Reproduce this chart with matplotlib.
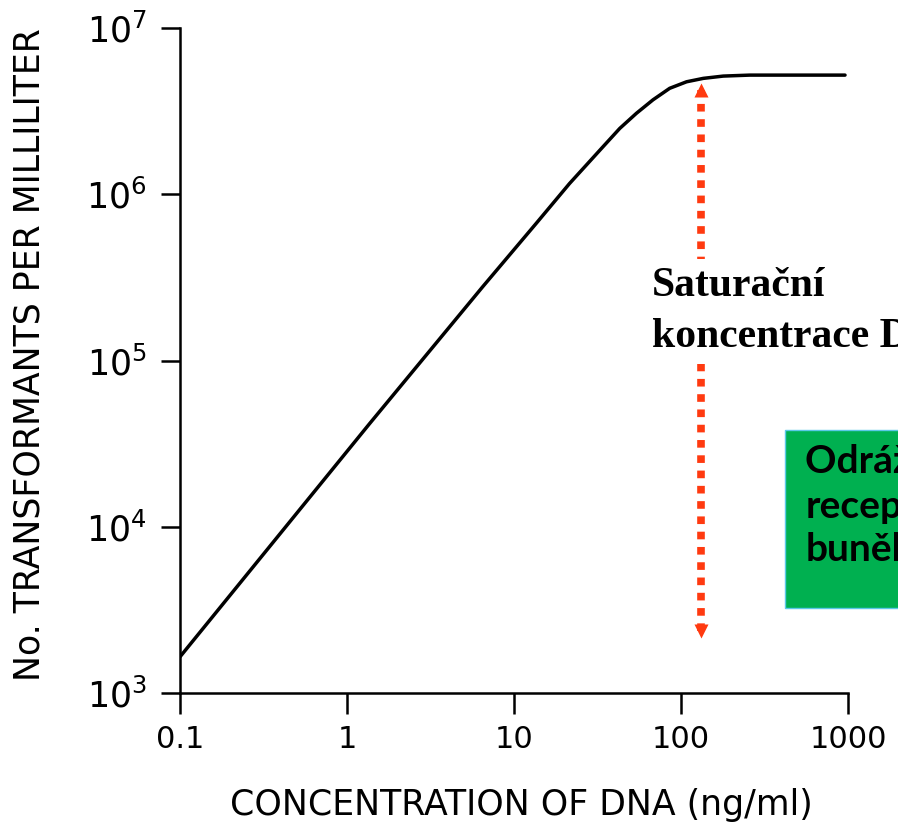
import matplotlib
matplotlib.use('Agg')
import matplotlib.pyplot as plt
from matplotlib.patches import Rectangle

# DNA concentration (ng/ml) vs. transformants per ml
conc = [0.1, 1.36, 6.5, 13.6, 21.5, 34.1, 43.0, 54.1, 68.0, 85.6, 108.0, 136.0,
        179.0, 258.0, 960.0]
transformants = [1650, 41500, 2.78e5, 6.69e5, 1.16e6, 1.93e6, 2.49e6, 3.07e6,
                 3.70e6, 4.34e6, 4.75e6, 4.98e6, 5.14e6, 5.21e6, 5.21e6]

x_ticks = [0.1, 1, 10, 100, 1000]
x_ticklabels = ['0.1', '1', '10', '100', '1000']
y_ticks = [1e3, 1e4, 1e5, 1e6, 1e7]
y_ticklabels = [r'$10^{3}$', r'$10^{4}$', r'$10^{5}$', r'$10^{6}$', r'$10^{7}$']

# saturation arrow (x position, upper and lower head centres)
arrow_x = 132
arrow_top = 4.24e6
arrow_bottom = 2.36e3

fig = plt.figure(figsize=(8.98, 8.27), dpi=100)
ax = fig.add_axes([0.2004, 0.162, 0.7439, 0.8041])

ax.plot(conc, transformants, color='black', lw=2.5, solid_capstyle='round',
        solid_joinstyle='round')
ax.set_xscale('log')
ax.set_yscale('log')
ax.set_xlim(0.1, 1000)
ax.set_ylim(1e3, 1e7)
ax.set_xticks(x_ticks)
ax.set_xticklabels(x_ticklabels)
ax.set_yticks(y_ticks)
ax.set_yticklabels(y_ticklabels)
ax.minorticks_off()
ax.tick_params(axis='x', direction='out', length=15, width=1.8,
               labelsize=22, pad=8, colors='black')
ax.tick_params(axis='y', direction='out', length=14, width=1.8,
               labelsize=25, pad=10, colors='black')
for side in ['top', 'right']:
    ax.spines[side].set_visible(False)
for side in ['left', 'bottom']:
    ax.spines[side].set_linewidth(1.8)

fig.text(0.581, 0.027, 'CONCENTRATION OF DNA (ng/ml)', ha='center', va='center',
         fontsize=25)
fig.text(0.033, 0.571, 'No. TRANSFORMANTS PER MILLILITER', ha='center', va='center',
         rotation=90, fontsize=25)

# red dotted double arrow
red = '#FF3A10'
ax.plot([arrow_x, arrow_x], [arrow_bottom, arrow_top], color=red, lw=5.5,
        linestyle=(0, (1, 1.0)), dash_capstyle='butt')
ax.plot([arrow_x], [arrow_top], marker='^', color=red, markersize=10, mec='none')
ax.plot([arrow_x], [arrow_bottom], marker='v', color=red, markersize=10, mec='none')

ax.text(0.707, 0.64, 'Saturační\nkoncentrace DNA', transform=ax.transAxes,
        ha='left', va='top', fontsize=30, fontweight='bold',
        family='Liberation Serif', linespacing=1.42,
        bbox=dict(facecolor='white', edgecolor='none', pad=6))

# green note box (cut off by the right edge)
ax.add_patch(Rectangle((0.906, 0.128), 0.3, 0.268, transform=ax.transAxes,
                       facecolor='#00B050', edgecolor='#5BC8E8', lw=1,
                       clip_on=False, zorder=3))
ax.text(0.936, 0.375, 'Odráží počet\nreceptorů\nbuněk', transform=ax.transAxes,
        ha='left', va='top', fontsize=28, fontweight='bold', family='Lato',
        linespacing=1.3, zorder=4, clip_on=False)

plt.savefig('out.png', dpi=100, format='png')
